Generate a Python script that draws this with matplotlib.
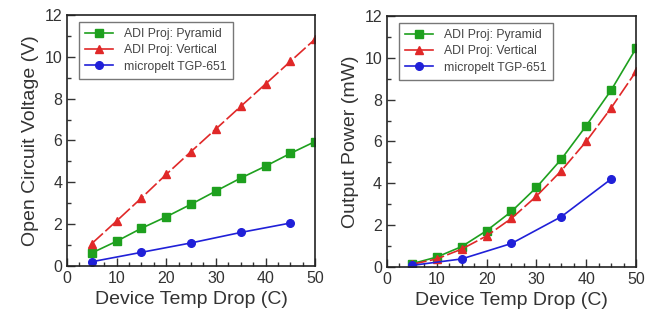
import numpy as np
import matplotlib
matplotlib.use("Agg")
import matplotlib.pyplot as plt
from matplotlib.ticker import MultipleLocator

plt.rcParams['font.family'] = ['Liberation Sans', 'DejaVu Sans']

temp = [5, 10, 15, 20, 25, 30, 35, 40, 45, 50]
temp_mp = [5, 15, 25, 35, 45]

# open circuit voltage (V)
voc_pyramid = [0.62, 1.18, 1.8, 2.35, 2.95, 3.58, 4.2, 4.77, 5.38, 5.95]
voc_vertical = [1.07, 2.15, 3.25, 4.38, 5.47, 6.55, 7.63, 8.7, 9.78, 10.85]
voc_micropelt = [0.2, 0.65, 1.1, 1.6, 2.05]

# output power (mW)
pw_pyramid = [0.15, 0.47, 0.97, 1.73, 2.65, 3.8, 5.15, 6.75, 8.45, 10.45]
pw_vertical = [0.12, 0.38, 0.85, 1.48, 2.32, 3.38, 4.6, 6.0, 7.6, 9.35]
pw_micropelt = [0.07, 0.38, 1.12, 2.4, 4.2]

labels = ['ADI Proj: Pyramid', 'ADI Proj: Vertical', 'micropelt TGP-651']
green = '#1ea01e'
red = '#e02828'
blue = '#2020d8'
txt = '#333333'

fig = plt.figure(figsize=(6.53, 3.2), dpi=100)
ax1 = fig.add_axes([0.1026, 0.169, 0.38, 0.784])
ax2 = fig.add_axes([0.5926, 0.166, 0.3814, 0.784])


def draw(ax, pyr, vert, mp, ylabel):
    ax.plot(temp, pyr, color=green, marker='s', ms=5.5, lw=1.2, label=labels[0])
    ax.plot(temp, vert, color=red, marker='^', ms=5.5, lw=1.2,
            dashes=(9, 2), label=labels[1])
    ax.plot(temp_mp, mp, color=blue, marker='o', ms=5.5, lw=1.2, label=labels[2])
    ax.set_xlim(0, 50)
    ax.set_ylim(0, 12)
    ax.xaxis.set_major_locator(MultipleLocator(10))
    ax.xaxis.set_minor_locator(MultipleLocator(2.5))
    ax.yaxis.set_major_locator(MultipleLocator(2))
    ax.yaxis.set_minor_locator(MultipleLocator(1))
    ax.tick_params(which='both', direction='in', top=False, right=False,
                   labelsize=11.5, colors=txt, labelcolor=txt)
    ax.tick_params(which='major', length=6, width=1)
    ax.tick_params(which='minor', length=3, width=1)
    for s in ax.spines.values():
        s.set_color('#222222')
        s.set_linewidth(1.2)
    ax.set_xlabel('Device Temp Drop (C)', fontsize=14, color=txt)
    ax.set_ylabel(ylabel, fontsize=14, color=txt)
    leg = ax.legend(loc='upper left', bbox_to_anchor=(0.048, 0.972),
                    borderaxespad=0, fontsize=8.8, frameon=True, fancybox=False,
                    edgecolor='#555555', handlelength=2.3, borderpad=0.5,
                    labelspacing=0.35, handletextpad=0.9)
    leg.get_frame().set_linewidth(1.0)
    for t in leg.get_texts():
        t.set_color('#444444')
    leg.get_lines()[1].set_dashes((None, None))
    leg.get_lines()[1].set_linestyle('-')


draw(ax1, voc_pyramid, voc_vertical, voc_micropelt, 'Open Circuit Voltage (V)')
draw(ax2, pw_pyramid, pw_vertical, pw_micropelt, 'Output Power (mW)')

fig.savefig('out.png', dpi=100)
